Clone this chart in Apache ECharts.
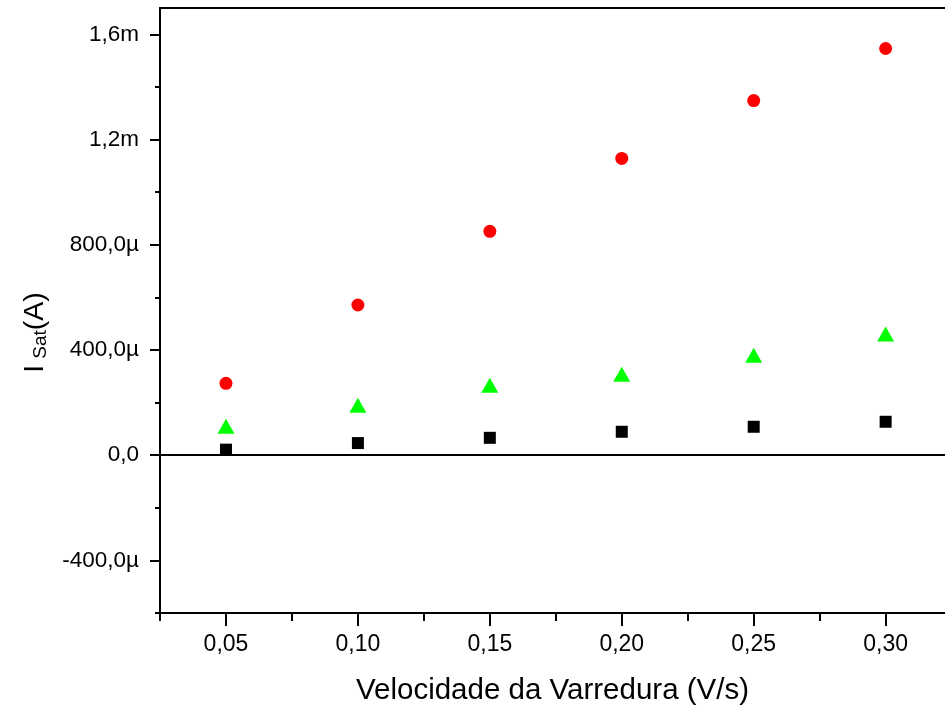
<!DOCTYPE html>
<html>
<head>
<meta charset="utf-8">
<script src="https://cdn.jsdelivr.net/npm/echarts@6/dist/echarts.min.js"></script>
<style>
  html, body { margin: 0; padding: 0; background: #fff; }
  #chart { width: 945px; height: 713px; }
</style>
</head>
<body>
<div id="chart"></div>
<script>
// sweep rate (V/s)
const speeds = [0.05, 0.10, 0.15, 0.20, 0.25, 0.30]
// saturation current, in µA
const redCircle = [273, 571, 851, 1128, 1348, 1546]
const greenTriangle = [110, 190, 266, 308, 380, 461]
const blackSquare = [21, 46, 66, 89, 108, 127]

const xMajor = [0.05, 0.10, 0.15, 0.20, 0.25, 0.30]
const xMinor = [0.025, 0.075, 0.125, 0.175, 0.225, 0.275]
const yMajor = [-400, 0, 400, 800, 1200, 1600]
const yMinor = [-600, -200, 200, 600, 1000, 1400]

const font = "'Liberation Sans', Arial, sans-serif"

function pairs(vals) {
  return speeds.map((s, i) => [s, vals[i]])
}

function yLabel(v) {
  if (v === 0) return '0,0'
  if (Math.abs(v) >= 1000) return (v / 1000).toFixed(1).replace('.', ',') + 'm'
  return v.toFixed(1).replace('.', ',') + 'µ'
}

const line = { show: true, lineStyle: { color: '#000', width: 2 } }

const chart = echarts.init(document.getElementById('chart'))
chart.setOption({
  animation: false,
  grid: { left: 160, right: 0, top: 8, bottom: 100 },
  xAxis: [
    {
      type: 'value', min: 0.025, max: 0.3225, position: 'bottom',
      axisLine: { ...line, onZero: false },
      axisTick: { show: true, customValues: xMajor, length: 13, lineStyle: { color: '#000', width: 2 } },
      axisLabel: {
        customValues: xMajor, margin: 20, color: '#000', fontSize: 23, fontFamily: font,
        formatter: v => v.toFixed(2).replace('.', ',')
      },
      splitLine: { show: false },
      name: 'Velocidade da Varredura (V/s)',
      nameLocation: 'middle', nameGap: 63,
      nameTextStyle: { color: '#000', fontSize: 29.5, fontFamily: font }
    },
    {
      type: 'value', min: 0.025, max: 0.3225, position: 'bottom',
      axisLine: { show: false, onZero: false },
      axisTick: { show: true, customValues: xMinor, length: 8, lineStyle: { color: '#000', width: 2 } },
      axisLabel: { show: false },
      splitLine: { show: false }
    },
    {
      type: 'value', min: 0.025, max: 0.3225, position: 'top',
      axisLine: { ...line, onZero: false },
      axisTick: { show: false },
      axisLabel: { show: false },
      splitLine: { show: false }
    }
  ],
  yAxis: [
    {
      type: 'value', min: -600, max: 1700, position: 'left',
      axisLine: { ...line, onZero: false },
      axisTick: { show: true, customValues: yMajor, length: 10, lineStyle: { color: '#000', width: 2 } },
      axisLabel: {
        customValues: yMajor, margin: 21, color: '#000', fontSize: 22.5, fontFamily: font,
        formatter: yLabel
      },
      splitLine: { show: false },
      name: '{a|I}{b|Sat}{a|(A)}',
      nameLocation: 'middle', nameGap: 110, nameRotate: 90,
      nameTextStyle: {
        padding: [0, 44, 0, 0],
        rich: {
          a: { fontSize: 28.5, fontFamily: font, color: '#000', verticalAlign: 'bottom', lineHeight: 32 },
          b: { fontSize: 19, fontFamily: font, color: '#000', verticalAlign: 'bottom', lineHeight: 32, padding: [13, 0, 0, 6] }
        }
      }
    },
    {
      type: 'value', min: -600, max: 1700, position: 'left',
      axisLine: { show: false, onZero: false },
      axisTick: { show: true, customValues: yMinor, length: 5, lineStyle: { color: '#000', width: 2 } },
      axisLabel: { show: false },
      splitLine: { show: false }
    }
  ],
  series: [
    {
      type: 'scatter', name: 'quadrado', data: pairs(blackSquare),
      symbol: 'rect', symbolSize: 12, itemStyle: { color: '#000', opacity: 1 },
      markLine: {
        silent: true, symbol: 'none', label: { show: false },
        lineStyle: { color: '#000', width: 2, type: 'solid' },
        data: [{ yAxis: 0 }]
      }
    },
    {
      type: 'scatter', name: 'triangulo', data: pairs(greenTriangle),
      symbol: 'triangle', symbolSize: [17, 15], itemStyle: { color: '#00ff00', opacity: 1 }
    },
    {
      type: 'scatter', name: 'circulo', data: pairs(redCircle),
      symbol: 'circle', symbolSize: 13, itemStyle: { color: '#ff0000', opacity: 1 }
    }
  ]
})
</script>
</body>
</html>
